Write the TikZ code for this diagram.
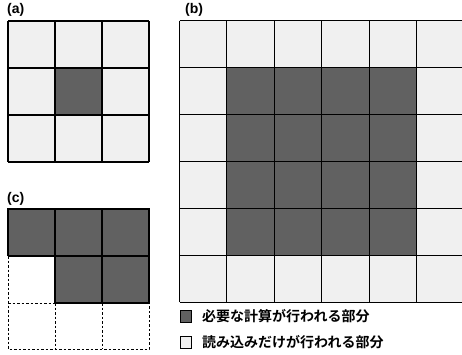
\documentclass[tikz,border=0pt]{standalone}
\usepackage{fontspec}
\setmainfont{Liberation Sans}
\newfontfamily\jp[BoldFont={Noto Sans CJK JP Bold}]{Noto Sans CJK JP}
\begin{document}
\begin{tikzpicture}[x=1pt,y=-1pt,
  light/.style={fill=black!6},
  dark/.style={fill=black!62},
  gridline/.style={line width=1.1pt},
  dashline/.style={line width=0.8pt,dash pattern=on 2.5pt off 2pt},
  panellabel/.style={inner sep=0pt,anchor=north west,font=\fontsize{14}{14}\selectfont\bfseries},
  legendtext/.style={inner sep=0pt,anchor=west,font=\jp\bfseries\fontsize{14}{14}\selectfont},
  legendbox/.style={line width=0.6pt}]
\useasboundingbox (0,0) rectangle (462,355);
% ---------- (a)
\node[panellabel] (la) at (7,3) {(a)};
\fill[light] (8,21) rectangle (149,162);
\fill[dark] (55,68) rectangle (102,115);
\foreach \x in {8,55,102,149} \draw[gridline] (\x,21) -- (\x,162);
\foreach \y in {21,68,115,162} \draw[gridline] (8,\y) -- (149,\y);
% ---------- (b)
\node[panellabel] (lb) at (185,3) {(b)};
\fill[light] (179.5,20.7) rectangle (462,302.1);
\fill[dark] (226.9,67.6) rectangle (416.5,255.2);
\foreach \x in {179.5,226.9,274.3,321.7,369.1,416.5} \draw[gridline] (\x,20.7) -- (\x,302.1);
\foreach \y in {20.7,67.6,114.5,161.4,208.3,255.2,302.1} \draw[gridline] (179.5,\y) -- (462,\y);
% ---------- (c)
\node[panellabel] (lc) at (7,192) {(c)};
\fill[dark] (8,209) rectangle (149,256);
\fill[dark] (55,256) rectangle (149,303);
\draw[gridline] (8,256) -- (8,209) -- (149,209) -- (149,303) -- (55,303) -- (55,256) -- (8,256);
\draw[gridline] (55,209) -- (55,256);
\draw[gridline] (102,209) -- (102,303);
\draw[gridline] (55,256) -- (149,256);
\draw[dashline] (8,256) -- (8,349) -- (149,349) -- (149,303);
\draw[dashline] (8,303) -- (55,303);
\draw[dashline] (55,303) -- (55,349);
\draw[dashline] (102,303) -- (102,349);
% ---------- legend
\draw[legendbox,dark] (180,310) rectangle (191,322);
\node[legendtext] (t1) at (202,316.5) {必要な計算が行われる部分};
\draw[legendbox,light] (180,336) rectangle (191,348);
\node[legendtext] (t2) at (202,342.5) {読み込みだけが行われる部分};
\end{tikzpicture}
\end{document}
